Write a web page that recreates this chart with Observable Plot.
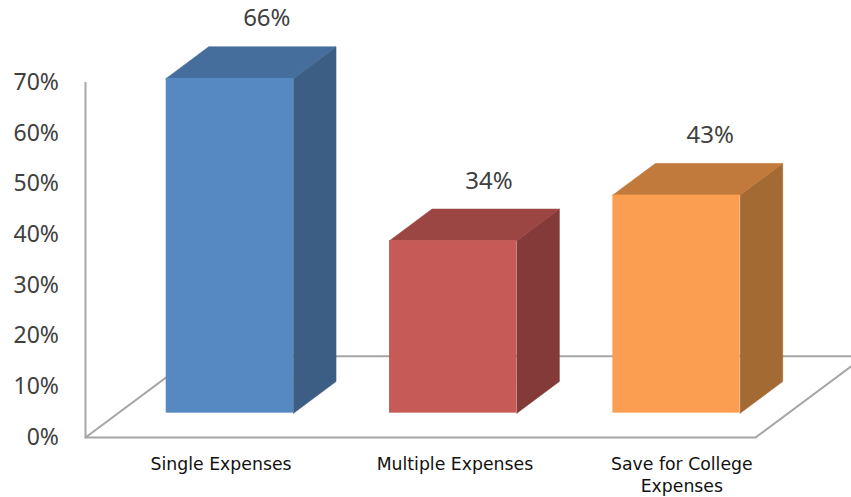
<!DOCTYPE html>
<html>
<head>
<meta charset="utf-8">
<script src="https://cdn.jsdelivr.net/npm/d3@7"></script>
<script src="https://cdn.jsdelivr.net/npm/@observablehq/plot@0.6"></script>
<style>html,body{margin:0;padding:0;background:#fff;overflow:hidden}svg{display:block}</style>
</head>
<body>
<div id="chart"></div>
<script>
const categories = ["Single Expenses", "Multiple Expenses", "Save for College\nExpenses"];
const values = [66, 34, 43];
const labelShift = [0.107, 0.154, 0.17];
const valueShift = [0.312, 0.307, 0.297];
const frontColors = ["#5688c1", "#c55a56", "#fb9e51"];
const topColors = ["#466e9c", "#9c4644", "#c27a3c"];
const sideColors = ["#3c5e85", "#843a39", "#a36a33"];
const yTicks = [0, 10, 20, 30, 40, 50, 60, 70];

// Oblique projection, in data units: a depth z in 0..1 shifts x and y.
const depthX = 0.488, depthY = 16;
const zFront = 0.3, zBack = 0.69, halfBar = 0.285;
const P = (cat, val, z) => ({x: cat + z * depthX, y: val + z * depthY});

const axisGrey = "#a6a6a6";
const ink = "#404040";
const font = "'Noto Sans', sans-serif";

const floorLines = [
  [P(-0.5, 0, 0), P(-0.5, 0, 1)],
  [P(-0.5, 0, 1), P(2.5, 0, 1)],
  [P(2.5, 0, 0), P(2.5, 0, 1)],
  [P(-0.5, 0, 0), P(2.5, 0, 0)]
];

const barMarks = categories.flatMap((_, i) => {
  const l = i - halfBar, r = i + halfBar, v = values[i];
  const top = [P(l, v, zFront), P(r, v, zFront), P(r, v, zBack), P(l, v, zBack), P(l, v, zFront)];
  const side = [P(r, 0, zFront), P(r, 0, zBack), P(r, v, zBack), P(r, v, zFront), P(r, 0, zFront)];
  const a = P(l, 0, zFront), b = P(r, v, zFront);
  return [
    Plot.line(side, {x: "x", y: "y", fill: sideColors[i], stroke: sideColors[i], strokeWidth: 0.6}),
    Plot.line(top, {x: "x", y: "y", fill: topColors[i], stroke: topColors[i], strokeWidth: 0.6}),
    Plot.rect([{x1: a.x, x2: b.x, y1: a.y, y2: b.y}], {x1: "x1", x2: "x2", y1: "y1", y2: "y2", fill: frontColors[i]})
  ];
});

const chart = Plot.plot({
  width: 851,
  height: 497,
  marginLeft: 85,
  marginRight: 96,
  marginTop: 82,
  marginBottom: 60,
  style: {fontFamily: font, background: "#fff"},
  x: {type: "linear", domain: [-0.5, 2.5], range: [85, 755], axis: null},
  y: {type: "linear", domain: [0, 70], range: [437, 82], axis: null},
  marks: [
    ...floorLines.map(seg => Plot.line(seg, {x: "x", y: "y", stroke: axisGrey, strokeWidth: 2})),
    Plot.ruleX([-0.5], {y1: 0, y2: 70, stroke: axisGrey, strokeWidth: 2}),
    ...barMarks,
    Plot.axisY({
      ticks: yTicks,
      tickSize: 0,
      tickPadding: 26.5,
      tickFormat: d => d + "%",
      fontSize: 23,
      fill: ink,
      label: null
    }),
    Plot.text(categories, {
      x: (_, i) => i + labelShift[i],
      y: -3.4,
      text: d => d,
      lineAnchor: "top",
      fontFamily: "'DejaVu Sans', sans-serif",
      fontSize: 17.3,
      lineHeight: 1.27,
      fill: "#111111"
    }),
    Plot.text(values, {
      x: (_, i) => i + valueShift[i],
      y: d => d + 16.6,
      text: d => d + "%",
      fontSize: 24,
      fill: ink
    })
  ]
});
document.getElementById("chart").append(chart);
</script>
</body>
</html>
